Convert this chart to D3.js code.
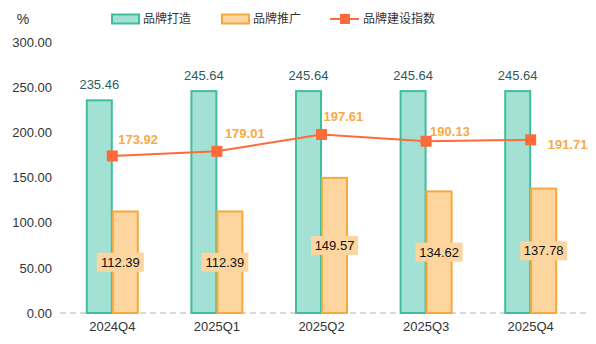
<!DOCTYPE html>
<html><head><meta charset="utf-8">
<script src="https://cdn.jsdelivr.net/npm/d3@7"></script>
<style>body{margin:0;background:#fff}svg{display:block;font-family:"Liberation Sans",Arial,"Noto Sans CJK SC",sans-serif}</style>
</head><body><svg id="c" width="596" height="344"></svg>
<script>
const categories = ["2024Q4","2025Q1","2025Q2","2025Q3","2025Q4"];
const brandBuild = [235.46,245.64,245.64,245.64,245.64];
const brandPromo = [112.39,112.39,149.57,134.62,137.78];
const brandIndex = [173.92,179.01,197.61,190.13,191.71];
const yTicks = [0,50,100,150,200,250,300];
const seriesNames = ["品牌打造","品牌推广","品牌建设指数"];

const svg = d3.select("#c");
const m = {left:60,right:13,top:42,bottom:31};
const W = 596, H = 344;
const x = d3.scaleBand().domain(categories).range([m.left, W-m.right]);
const y = d3.scaleLinear().domain([0,300]).range([H-m.bottom, m.top]);
const barW = 26;
const teal = "#a3e1d4", tealS = "#3dbf9f", org = "#fdd59e", orgS = "#f7a83e", lineC = "#ff6a3a";
const cjk = '"Noto Sans CJK SC","Liberation Sans",sans-serif';

// y axis labels
const yAxis = d3.axisLeft(y).tickValues(yTicks).tickFormat(d=>d.toFixed(2)).tickSize(0).tickPadding(8);
const ga = svg.append("g").attr("transform",`translate(${m.left},0)`).call(yAxis);
ga.select(".domain").remove();
ga.selectAll("text").attr("font-size",13).attr("fill","#333").attr("font-family","Liberation Sans, Arial, sans-serif");

// baseline dashed
svg.append("line").attr("x1",m.left).attr("x2",W-6).attr("y1",y(0)).attr("y2",y(0))
  .attr("stroke","#d9d9d9").attr("stroke-width",2).attr("stroke-dasharray","6,4");

// x axis labels
const xAxis = d3.axisBottom(x).tickSize(0).tickPadding(9);
const gx = svg.append("g").attr("transform",`translate(0,${y(0)})`).call(xAxis);
gx.select(".domain").remove();
gx.selectAll("text").attr("font-size",13).attr("fill","#333").attr("font-family","Liberation Sans, Arial, sans-serif");

// % unit
svg.append("text").attr("x",23).attr("y",24).attr("text-anchor","middle").attr("font-size",14).attr("fill","#333").text("%");

const cx = c => x(c) + x.bandwidth()/2;

// teal bars
svg.selectAll(".b1").data(categories).join("rect")
  .attr("x",c=>cx(c)-barW+0.5).attr("width",barW-1)
  .attr("y",(c,i)=>y(brandBuild[i])).attr("height",(c,i)=>y(0)-y(brandBuild[i]))
  .attr("fill",teal).attr("stroke",tealS).attr("stroke-width",2);
// orange bars
svg.selectAll(".b2").data(categories).join("rect")
  .attr("x",c=>cx(c)+0.5).attr("width",barW-1)
  .attr("y",(c,i)=>y(brandPromo[i])).attr("height",(c,i)=>y(0)-y(brandPromo[i]))
  .attr("fill",org).attr("stroke",orgS).attr("stroke-width",2);

// teal labels
svg.selectAll(".l1").data(categories).join("text")
  .attr("x",c=>cx(c)-barW/2).attr("y",(c,i)=>y(brandBuild[i])-11)
  .attr("text-anchor","middle").attr("font-size",13).attr("fill","#2c5d5e").text((c,i)=>brandBuild[i].toFixed(2));

// orange bar label boxes
const bdx = [-5,-5,0,0,0];
const g2 = svg.selectAll(".l2").data(categories).join("g")
  .attr("transform",(c,i)=>`translate(${cx(c)+barW/2+bdx[i]},${(y(brandPromo[i])+y(0))/2})`);
g2.append("rect").attr("x",-23.5).attr("y",-9.5).attr("width",47).attr("height",19).attr("fill",org);
g2.append("text").attr("text-anchor","middle").attr("dy","0.36em").attr("font-size",13).attr("fill","#111")
  .text((c,i)=>brandPromo[i].toFixed(2));

// line
const line = d3.line().x((d,i)=>cx(categories[i])).y(d=>y(d));
svg.append("path").datum(brandIndex).attr("d",line).attr("fill","none").attr("stroke",lineC).attr("stroke-width",2);
svg.selectAll(".pt").data(brandIndex).join("rect")
  .attr("x",(d,i)=>cx(categories[i])-5.5).attr("y",d=>y(d)-5.5).attr("width",11).attr("height",11).attr("fill",lineC);
const ldx = [6,8,2,4,17], ldy = [-17,-18,-18,-10,4];
svg.selectAll(".l3").data(brandIndex).join("text")
  .attr("x",(d,i)=>cx(categories[i])+ldx[i]).attr("y",(d,i)=>y(d)+ldy[i]).attr("dy","0.36em")
  .attr("font-size",13).attr("font-weight","bold").attr("fill","#f8aa48").text(d=>d.toFixed(2));

// legend
const lg = svg.append("g");
lg.append("rect").attr("x",112).attr("y",14.5).attr("width",27).attr("height",9).attr("fill",teal).attr("stroke",tealS).attr("stroke-width",2);
lg.append("text").attr("x",143).attr("y",19).attr("dy","0.36em").attr("font-size",12).attr("font-family",cjk).attr("fill","#333").text(seriesNames[0]);
lg.append("rect").attr("x",222).attr("y",14.5).attr("width",27).attr("height",9).attr("fill",org).attr("stroke",orgS).attr("stroke-width",2);
lg.append("text").attr("x",253).attr("y",19).attr("dy","0.36em").attr("font-size",12).attr("font-family",cjk).attr("fill","#333").text(seriesNames[1]);
lg.append("line").attr("x1",330).attr("x2",359).attr("y1",19).attr("y2",19).attr("stroke",lineC).attr("stroke-width",2);
lg.append("rect").attr("x",340).attr("y",14).attr("width",10).attr("height",10).attr("fill",lineC);
lg.append("text").attr("x",363).attr("y",19).attr("dy","0.36em").attr("font-size",12).attr("font-family",cjk).attr("fill","#333").text(seriesNames[2]);
</script></body></html>
